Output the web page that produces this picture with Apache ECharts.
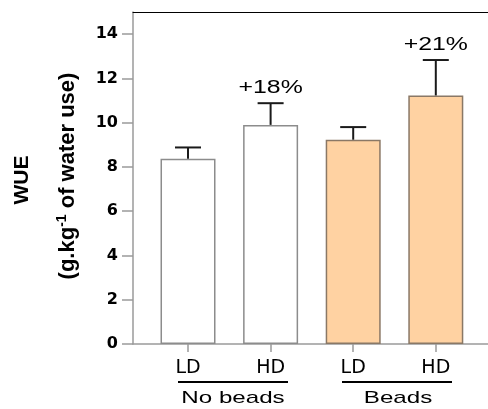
<!DOCTYPE html>
<html>
<head>
<meta charset="utf-8">
<script src="https://cdn.jsdelivr.net/npm/echarts@6/dist/echarts.min.js"></script>
<style>
  html, body { margin: 0; padding: 0; background: #fff; }
  #chart { width: 488px; height: 409px; }
</style>
</head>
<body>
<div id="chart"></div>
<script>
const categories = ['LD', 'HD', 'LD', 'HD'];
const positions = [1, 2, 3, 4];
const wue = [8.37, 9.9, 9.23, 11.23];
const errors = [0.51, 0.98, 0.57, 1.6];
const changeLabels = ['', '+18%', '', '+21%'];
const yTicks = [0, 2, 4, 6, 8, 10, 12, 14];
const barColors = ['#ffffff', '#ffffff', '#ffd2a2', '#ffd2a2'];
const barBorders = ['#8c8c8c', '#8c8c8c', '#8a7866', '#8a7866'];

const chartDom = document.getElementById('chart');
const myChart = echarts.init(chartDom);
const font = '"Liberation Sans", Arial, sans-serif';
const wideFont = '"DejaVu Sans", sans-serif';

const barData = positions.map((p, i) => ({
    value: [p, wue[i]],
    itemStyle: { color: barColors[i], borderColor: barBorders[i], borderWidth: 1.5 }
}));

const errData = positions.map((p, i) => [p, wue[i], wue[i] + errors[i], i]);

const option = {
    animation: false,
    grid: { left: 133, right: 0, top: 12, bottom: 65 },
    xAxis: [{
        type: 'value',
        min: 0.334,
        max: 4.632,
        splitLine: { show: false },
        axisLine: { lineStyle: { color: '#9a9a9a', width: 1.5 } },
        axisTick: { customValues: positions, length: 8, lineStyle: { color: '#9a9a9a', width: 1.5 } },
        axisLabel: {
            customValues: positions,
            margin: 15,
            color: '#000',
            fontFamily: wideFont,
            fontSize: 19,
            formatter: (v) => categories[positions.indexOf(Math.round(v))] || ''
        }
    }, {
        type: 'value',
        position: 'top',
        min: 0.334,
        max: 4.632,
        splitLine: { show: false },
        axisLine: { show: true, lineStyle: { color: '#000', width: 1 } },
        axisTick: { show: false },
        axisLabel: { show: false }
    }],
    yAxis: {
        type: 'value',
        min: 0,
        max: 15,
        interval: 2,
        splitLine: { show: false },
        axisLine: { show: true, lineStyle: { color: '#9a9a9a', width: 1.5 } },
        axisTick: { show: true, customValues: yTicks, length: 11, lineStyle: { color: '#9a9a9a', width: 1.5 } },
        axisLabel: {
            customValues: yTicks,
            margin: 15,
            color: '#000',
            fontFamily: wideFont,
            fontWeight: 'bold',
            fontSize: 16
        }
    },
    series: [{
        type: 'bar',
        barWidth: 55,
        data: barData
    }, {
        type: 'custom',
        data: errData,
        z: 3,
        renderItem: (params, api) => {
            const top = api.coord([api.value(0), api.value(2)]);
            const base = api.coord([api.value(0), api.value(1)]);
            const idx = api.value(3);
            const style = { stroke: '#1a1a1a', lineWidth: 2 };
            const children = [
                { type: 'line', shape: { x1: top[0], y1: base[1], x2: top[0], y2: top[1] }, style },
                { type: 'line', shape: { x1: top[0] - 13, y1: top[1], x2: top[0] + 13, y2: top[1] }, style }
            ];
            if (changeLabels[idx]) {
                children.push({
                    type: 'text',
                    x: top[0],
                    y: top[1] - 15,
                    scaleX: 1.38,
                    style: {
                        text: changeLabels[idx],
                        fill: '#000',
                        font: '18px ' + font,
                        align: 'center',
                        verticalAlign: 'middle'
                    }
                });
            }
            return { type: 'group', children };
        }
    }],
    graphic: [
        { type: 'line', shape: { x1: 178, y1: 382, x2: 288, y2: 382 }, style: { stroke: '#000', lineWidth: 2 } },
        { type: 'line', shape: { x1: 342, y1: 382, x2: 452, y2: 382 }, style: { stroke: '#000', lineWidth: 2 } },
        { type: 'text', x: 233, y: 398, scaleX: 1.42, style: { text: 'No beads', font: '17px ' + font, fill: '#000', align: 'center', verticalAlign: 'middle' } },
        { type: 'text', x: 398, y: 398, scaleX: 1.42, style: { text: 'Beads', font: '17px ' + font, fill: '#000', align: 'center', verticalAlign: 'middle' } },
        {
            type: 'text', x: 22, y: 180, rotation: Math.PI / 2,
            style: { text: 'WUE', font: 'bold 21px ' + font, fill: '#000', align: 'center', verticalAlign: 'middle' }
        },
        {
            type: 'text', x: 68, y: 176, rotation: Math.PI / 2,
            style: {
                text: '{a|(g.kg}{s|-1}{a| of water use)}',
                fill: '#000',
                align: 'center',
                verticalAlign: 'middle',
                rich: {
                    a: { fontFamily: font, fontWeight: 'bold', fontSize: 22, lineHeight: 25 },
                    s: { fontFamily: font, fontWeight: 'bold', fontSize: 14, verticalAlign: 'top', lineHeight: 25, padding: [0, 0, 10, 0] }
                }
            }
        }
    ]
};

myChart.setOption(option);
</script>
</body>
</html>
